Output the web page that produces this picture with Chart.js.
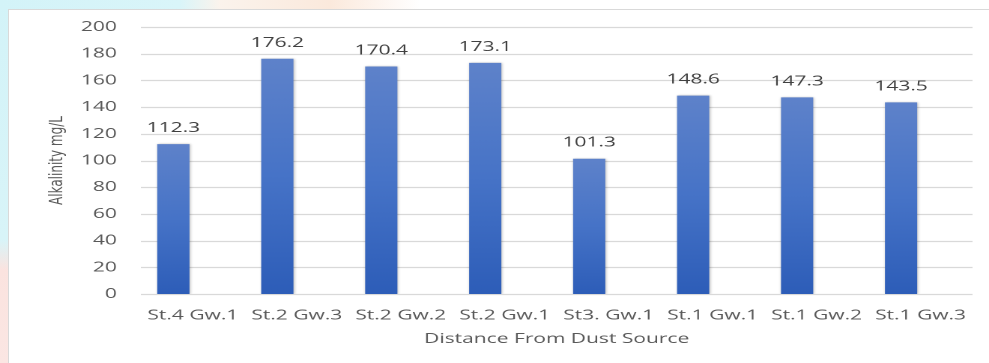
<!DOCTYPE html>
<html>
<head>
<meta charset="utf-8">
<script src="https://cdn.jsdelivr.net/npm/chart.js@4.4.1/dist/chart.umd.min.js"></script>
<style>
  html, body { margin: 0; padding: 0; }
  body {
    width: 989px; height: 363px; overflow: hidden; position: relative;
    background:
      linear-gradient(90deg, #d3f3f8 0px, #d9f5f9 180px, #fbf3ec 220px, #fbe9dc 330px, #ffffff 420px) top / 100% 10px no-repeat,
      linear-gradient(180deg, #d3f3f8 0px, #d8f4f8 240px, #fbe3df 270px, #fbe6e3 363px);
  }
  #panel {
    position: absolute; left: 8px; top: 9px; width: 990px; height: 360px;
    background: #fff; border: 1px solid #d9d9d9; box-sizing: border-box;
  }
  #wrap {
    position: absolute; left: 0; top: 0; width: 660px; height: 363px;
    transform: scaleX(1.4985); transform-origin: 0 0;
  }
</style>
</head>
<body>
<div id="panel"></div>
<div id="wrap"><canvas id="alkalinityBar" width="660" height="363"></canvas></div>
<script>
const SITES = ['St.4 Gw.1', 'St.2 Gw.3', 'St.2 Gw.2', 'St.2 Gw.1', 'St3. Gw.1', 'St.1 Gw.1', 'St.1 Gw.2', 'St.1 Gw.3'];
const ALKALINITY = [112.3, 176.2, 170.4, 173.1, 101.3, 148.6, 147.3, 143.5];
const Y_TICKS = [0, 20, 40, 60, 80, 100, 120, 140, 160, 180, 200];
const X_TITLE = 'Distance From Dust Source';
const Y_TITLE = 'Alkalinity mg/L';

// labels and grid sit a little to the right of the bars
const SHIFT = 13;
const TEXT = '#595959';
const FONT = '"Open Sans", sans-serif';

const barFill = (ctx) => {
    const { chart, parsed } = ctx;
    if (!chart.chartArea || !parsed) return '#4472c4';
    const y = chart.scales.y;
    const g = chart.ctx.createLinearGradient(0, y.getPixelForValue(parsed.y), 0, y.getPixelForValue(0));
    g.addColorStop(0, '#5e82ca');
    g.addColorStop(0.5, '#4673c7');
    g.addColorStop(1, '#2d5db8');
    return g;
};

const decorations = {
    id: 'decorations',
    beforeDatasetsDraw(chart) {
        const { ctx, chartArea, scales } = chart;
        ctx.save();
        ctx.strokeStyle = '#d9d9d9';
        ctx.lineWidth = 1.2;
        Y_TICKS.forEach((v) => {
            const y = Math.round(scales.y.getPixelForValue(v)) + 0.5;
            ctx.beginPath();
            ctx.moveTo(chartArea.left + SHIFT, y);
            ctx.lineTo(chartArea.right + SHIFT, y);
            ctx.stroke();
        });
        ctx.restore();
        // soft shadow behind the bars
        ctx.save();
        ctx.shadowColor = 'rgba(0, 0, 0, 0.28)';
        ctx.shadowBlur = 4;
        ctx.shadowOffsetX = 1;
        ctx.shadowOffsetY = 0;
    },
    afterDatasetsDraw(chart) {
        const { ctx, chartArea, scales } = chart;
        ctx.restore();
        ctx.save();
        ctx.fillStyle = '#404040';
        ctx.font = '14px ' + FONT;
        ctx.textAlign = 'center';
        ctx.textBaseline = 'middle';
        chart.getDatasetMeta(0).data.forEach((bar, i) => {
            ctx.fillText(ALKALINITY[i].toFixed(1), bar.x, bar.y - 16);
        });
        ctx.fillStyle = TEXT;
        ctx.fillText(X_TITLE, (chartArea.left + chartArea.right) / 2 + SHIFT, scales.x.bottom - 24);
        ctx.restore();
    },
};

new Chart(document.getElementById('alkalinityBar').getContext('2d'), {
    type: 'bar',
    data: {
        labels: SITES,
        datasets: [{ data: ALKALINITY, backgroundColor: barFill, categoryPercentage: 1, barPercentage: 0.31 }],
    },
    options: {
        responsive: false,
        animation: false,
        devicePixelRatio: 2,
        layout: { padding: { top: 27, right: 24, bottom: 0, left: 0 } },
        plugins: { legend: { display: false }, tooltip: { enabled: false } },
        scales: {
            x: {
                grid: { display: false, drawTicks: false },
                border: { display: false },
                ticks: { color: TEXT, font: { family: FONT, size: 14 }, padding: 13, labelOffset: SHIFT, maxRotation: 0, autoSkip: false },
                afterFit: (scale) => { scale.height = 69; },
            },
            y: {
                min: 0, max: 200,
                grid: { display: false, drawTicks: false },
                border: { display: false },
                ticks: { stepSize: 20, color: TEXT, font: { family: FONT, size: 14 }, padding: 3 },
                title: { display: true, text: Y_TITLE, color: TEXT, font: { family: '"DejaVu Sans", sans-serif', size: 12 }, padding: { top: 31, bottom: 0 } },
                afterFit: (scale) => { scale.width = 81; },
            },
        },
    },
    plugins: [decorations],
});
</script>
</body>
</html>
